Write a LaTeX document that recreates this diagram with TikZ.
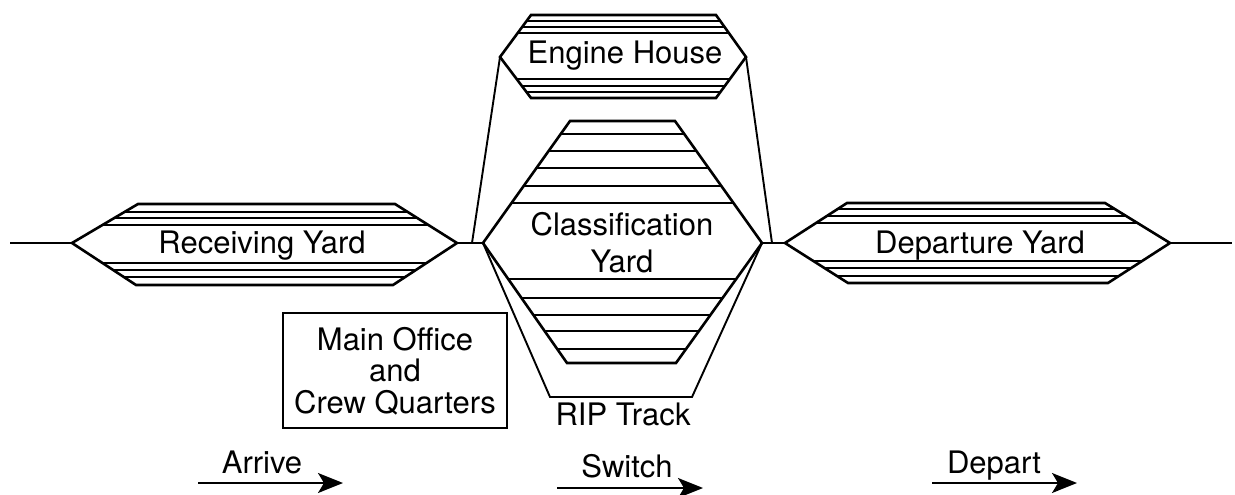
\documentclass[tikz,border=0pt]{standalone}
\usepackage{fontspec}
\setmainfont{TeX Gyre Heros}
\usetikzlibrary{arrows.meta}
\begin{document}
\begin{tikzpicture}[x=1pt,y=-1pt,
  outer/.style={line width=2.6pt,line join=miter},
  inner/.style={line width=1.7pt},
  track/.style={line width=1.9pt},
  lbl/.style={font=\fontsize{31}{32}\selectfont,anchor=base,inner sep=0pt},
  flow/.style={line width=1.8pt,-{Stealth[length=25pt,width=20pt,inset=6pt]}}]
\useasboundingbox (0,0) rectangle (1235,495);
% --- key points ---
\coordinate (rcvL) at (72,243);   \coordinate (rcvR) at (457,243);
\coordinate (clsL) at (483,243);  \coordinate (clsR) at (762,243);
\coordinate (engL) at (500,57);   \coordinate (engR) at (746,57);
\coordinate (depL) at (785,243);  \coordinate (depR) at (1170,243);
\coordinate (inW) at (10,243);    \coordinate (outE) at (1232,243);
\coordinate (engJL) at (472,243); \coordinate (engJR) at (772,243);
\coordinate (ripBL) at (550,397); \coordinate (ripBR) at (692,397);
% --- Receiving Yard ---
\begin{scope}
\clip (rcvL) -- (138,204) -- (395,204) -- (rcvR) -- (393,285) -- (136,285) -- cycle;
\foreach \y in {212,218,225,263,270,277} \draw[inner] (0,\y) -- (1235,\y);
\end{scope}
\draw[outer] (rcvL) -- (138,204) -- (395,204) -- (rcvR) -- (393,285) -- (136,285) -- cycle;
\node[lbl] (rcv) at (262,253) {Receiving Yard};
% --- Engine House ---
\begin{scope}
\clip (engL) -- (531,15) -- (716,15) -- (engR) -- (716,98) -- (531,98) -- cycle;
\foreach \y in {21,27,33,79,86,92} \draw[inner] (0,\y) -- (1235,\y);
\end{scope}
\draw[outer] (engL) -- (531,15) -- (716,15) -- (engR) -- (716,98) -- (531,98) -- cycle;
\node[lbl] (eng) at (625,64) {Engine House};
% --- Classification Yard ---
\begin{scope}
\clip (clsL) -- (570,121) -- (675,121) -- (clsR) -- (676,363) -- (567,363) -- cycle;
\foreach \y in {134,151,168,186,203,279,298,315,331,349} \draw[inner] (0,\y) -- (1235,\y);
\end{scope}
\draw[outer] (clsL) -- (570,121) -- (675,121) -- (clsR) -- (676,363) -- (567,363) -- cycle;
\node[lbl] (cls1) at (622,235) {Classification};
\node[lbl] (cls2) at (622,272) {Yard};
% --- Departure Yard ---
\begin{scope}
\clip (depL) -- (847,203) -- (1105,203) -- (depR) -- (1108,283) -- (848,283) -- cycle;
\foreach \y in {209,216,223,261,268,276} \draw[inner] (0,\y) -- (1235,\y);
\end{scope}
\draw[outer] (depL) -- (847,203) -- (1105,203) -- (depR) -- (1108,283) -- (848,283) -- cycle;
\node[lbl] (dep) at (980,253) {Departure Yard};
% --- connecting tracks ---
\draw[track] (inW) -- (rcvL);
\draw[track] (rcvR) -- (clsL);
\draw[track] (engJL) -- (engL);
\draw[track] (engR) -- (engJR);
\draw[track] (clsR) -- (depL);
\draw[track] (depR) -- (outE);
\draw[track,line join=miter] (clsL) -- (ripBL) -- (ripBR) -- (clsR);
\node[lbl] (rip) at (623,425) {RIP Track};
% --- Main Office ---
\draw[track] (283,313) rectangle (507,428);
\node[font=\fontsize{31}{31.5}\selectfont,align=center,inner sep=0pt] (office) at (395,371)
  {Main Office\\and\\Crew Quarters};
% --- flow arrows ---
\coordinate (a1) at (198,483); \coordinate (a2) at (343,483);
\coordinate (s1) at (557,488); \coordinate (s2) at (703,488);
\coordinate (d1) at (932,483); \coordinate (d2) at (1077,483);
\draw[flow] (a1) -- (a2);
\draw[flow] (s1) -- (s2);
\draw[flow] (d1) -- (d2);
\node[lbl] (arrive) at (262,473) {Arrive};
\node[lbl] (switch) at (627,477) {Switch};
\node[lbl] (depart) at (994,473) {Depart};
\end{tikzpicture}
\end{document}
